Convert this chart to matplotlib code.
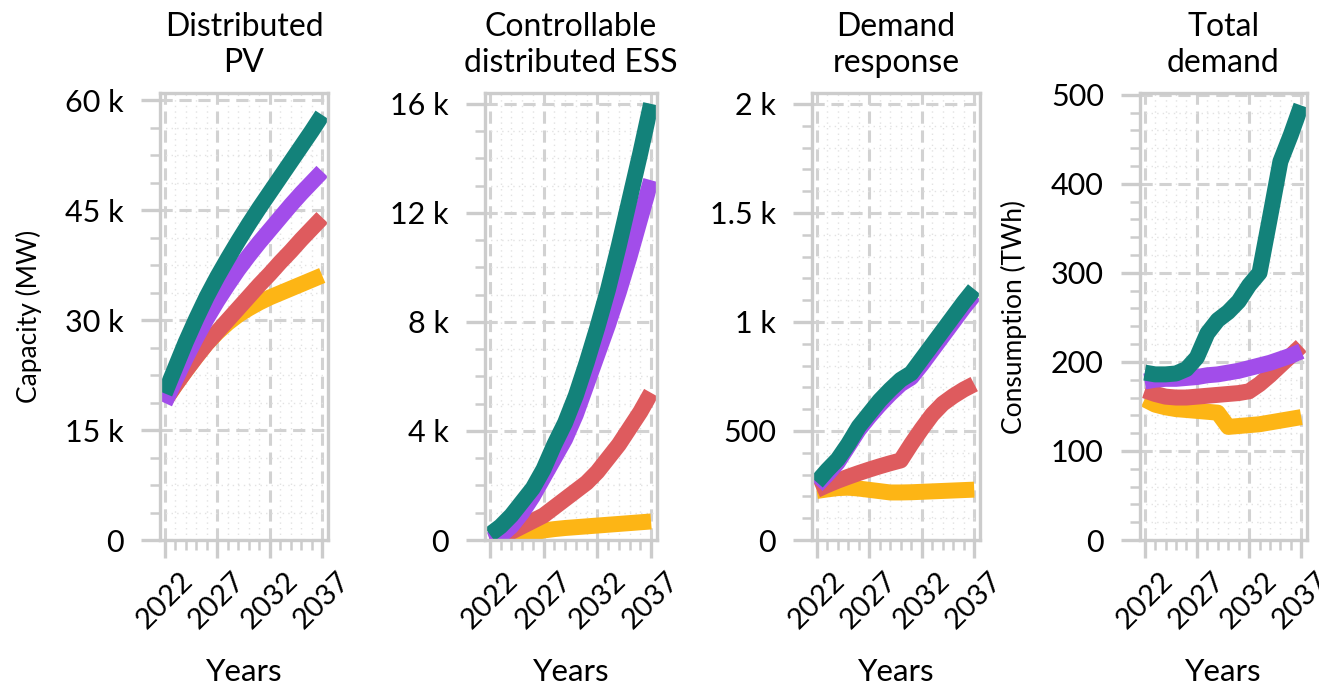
import matplotlib
matplotlib.use("Agg")
import matplotlib.pyplot as plt
from matplotlib.ticker import FixedLocator, FixedFormatter, MultipleLocator

plt.rcParams['font.family'] = ['Lato', 'DejaVu Sans']

# ---- data -------------------------------------------------------------
years = list(range(2022, 2038))

# Distributed PV capacity (MW)
pv_yellow = [19000, 21100, 23100, 25000, 26800, 28300, 29600, 30700,
             31600, 32400, 33100, 33700, 34300, 34900, 35500, 36100]
pv_red = [19000, 21100, 23100, 25000, 26800, 28400, 30000, 31600,
          33200, 34800, 36300, 37900, 39400, 41000, 42500, 44000]
pv_purple = [18700, 21800, 24800, 27600, 30200, 32600, 34800, 36900,
             38800, 40600, 42300, 44000, 45700, 47300, 48800, 50300]
pv_teal = [20000, 23500, 27000, 30200, 33200, 35900, 38400, 40800,
           43100, 45300, 47400, 49500, 51600, 53700, 55800, 58000]

# Controllable distributed ESS capacity (MW)
ess_yellow = [0, 0, 20, 100, 250, 350, 400, 440,
              470, 500, 530, 560, 590, 620, 650, 680]
ess_red = [0, 100, 300, 500, 700, 900, 1200, 1500,
           1800, 2100, 2500, 3000, 3500, 4100, 4700, 5400]
ess_purple = [0, 150, 500, 1000, 1600, 2300, 3000, 3700,
              4600, 5700, 6800, 7900, 9100, 10400, 11800, 13200]
ess_teal = [200, 500, 900, 1400, 1900, 2600, 3500, 4300,
            5300, 6500, 7800, 9200, 10800, 12500, 14200, 16000]

# Demand response capacity (MW)
dr_yellow = [225, 232, 238, 240, 236, 230, 224, 218,
             218, 219, 221, 223, 225, 227, 229, 231]
dr_red = [230, 252, 272, 290, 307, 323, 338, 352,
          365, 440, 510, 575, 625, 660, 690, 715]
dr_purple = [250, 300, 355, 430, 505, 565, 620, 670,
             715, 745, 805, 870, 935, 1000, 1065, 1125]
dr_teal = [265, 320, 370, 440, 520, 580, 640, 690,
           735, 765, 830, 895, 960, 1025, 1090, 1150]

# Total demand (TWh)
td_yellow = [158, 152, 149, 147, 146, 145, 144, 143,
             127, 128, 129, 130, 132, 134, 136, 138]
td_red = [168, 164, 161, 160, 160, 161, 162, 163,
          164, 165, 167, 175, 185, 196, 207, 218]
td_purple = [178, 180, 181, 181, 182, 183, 185, 186,
             188, 190, 193, 196, 199, 203, 207, 212]
td_teal = [188, 186, 186, 187, 192, 205, 232, 247,
           256, 268, 286, 300, 362, 425, 455, 488]

panel_titles = ["Distributed\nPV", "Controllable\ndistributed ESS",
                "Demand\nresponse", "Total\ndemand"]
y_labels = ["Capacity (MW)", "", "", "Consumption (TWh)"]

pv_ticks = [0, 15000, 30000, 45000, 60000]
pv_ticklabels = ["0", "15 k", "30 k", "45 k", "60 k"]
ess_ticks = [0, 4000, 8000, 12000, 16000]
ess_ticklabels = ["0", "4 k", "8 k", "12 k", "16 k"]
dr_ticks = [0, 500, 1000, 1500, 2000]
dr_ticklabels = ["0", "500", "1 k", "1.5 k", "2 k"]
td_ticks = [0, 100, 200, 300, 400, 500]
td_ticklabels = ["0", "100", "200", "300", "400", "500"]

year_ticks = [2022, 2027, 2032, 2037]
year_ticklabels = ["2022", "2027", "2032", "2037"]

# ---- styling ----------------------------------------------------------
colors = {"yellow": "#FDB515", "red": "#DE5B5E",
          "purple": "#A24DEA", "teal": "#13827A"}
frame_grey = "#cccccc"
line_w = 11.5

panels = [
    dict(series=[pv_yellow, pv_red, pv_purple, pv_teal], ticks=pv_ticks,
         labels=pv_ticklabels, ylim=(0, 61000), minor=3750,
         left=160, right=328, ylab_x=-0.70),
    dict(series=[ess_yellow, ess_red, ess_purple, ess_teal], ticks=ess_ticks,
         labels=ess_ticklabels, ylim=(0, 16400), minor=1000,
         left=485, right=657, ylab_x=None),
    dict(series=[dr_yellow, dr_red, dr_purple, dr_teal], ticks=dr_ticks,
         labels=dr_ticklabels, ylim=(0, 2050), minor=100,
         left=812, right=980, ylab_x=None),
    dict(series=[td_yellow, td_red, td_purple, td_teal], ticks=td_ticks,
         labels=td_ticklabels, ylim=(0, 502), minor=20,
         left=1140, right=1307, ylab_x=-0.675),
]

W, H = 1319, 690
fig = plt.figure(figsize=(W / 100, H / 100), dpi=100)
fig.patch.set_facecolor("white")

top_px, bottom_px = 93, 540
order = ["yellow", "red", "purple", "teal"]

for i, p in enumerate(panels):
    ax = fig.add_axes([p["left"] / W, 1 - bottom_px / H,
                       (p["right"] - p["left"]) / W, (bottom_px - top_px) / H])
    for name, vals in zip(order, p["series"]):
        ax.plot(years, vals, color=colors[name], lw=line_w,
                solid_capstyle="butt", solid_joinstyle="round")

    ax.set_xlim(2021.55, 2037.55)
    ax.set_ylim(*p["ylim"])

    ax.xaxis.set_major_locator(FixedLocator(year_ticks))
    ax.xaxis.set_major_formatter(FixedFormatter(year_ticklabels))
    ax.xaxis.set_minor_locator(MultipleLocator(1))
    ax.yaxis.set_major_locator(FixedLocator(p["ticks"]))
    ax.yaxis.set_major_formatter(FixedFormatter(p["labels"]))
    ax.yaxis.set_minor_locator(MultipleLocator(p["minor"]))

    ax.grid(which="major", color="#d2d2d2", lw=2.2, linestyle=(0, (4, 2.2)))
    ax.grid(which="minor", color="#e2e2e2", lw=1.0, linestyle=(0, (1, 3)))
    ax.set_axisbelow(True)

    for s in ax.spines.values():
        s.set_color(frame_grey)
        s.set_linewidth(2.4)

    ax.tick_params(which="major", length=14, width=2.4, color=frame_grey,
                   labelsize=22, labelcolor="black", pad=12)
    ax.tick_params(which="minor", length=7, width=1.8, color=frame_grey)
    ax.tick_params(axis="x", which="major", length=13, pad=7)
    for lab in ax.get_xticklabels():
        lab.set_rotation(45)
        lab.set_fontsize(21)

    ax.set_title(panel_titles[i], fontsize=23, pad=15, linespacing=1.26)
    ax.set_xlabel("Years", fontsize=22.5)
    ax.xaxis.set_label_coords(0.5, -0.265)
    if y_labels[i]:
        ax.set_ylabel(y_labels[i], fontsize=19)
        ax.yaxis.set_label_coords(p["ylab_x"], 0.5)

fig.savefig("out.png", dpi=100, facecolor="white")
